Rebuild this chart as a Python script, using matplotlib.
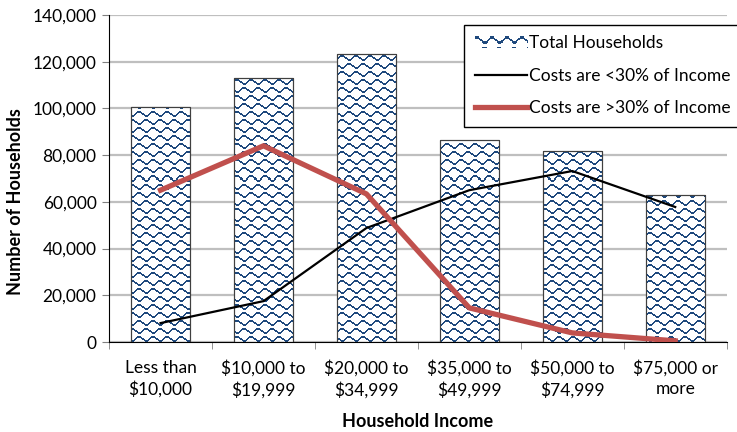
import matplotlib
matplotlib.use('Agg')
import matplotlib.pyplot as plt
import numpy as np
from matplotlib.path import Path
from matplotlib.legend_handler import HandlerBase
from matplotlib.image import BboxImage
from matplotlib.transforms import Bbox, TransformedBbox
from matplotlib.lines import Line2D
from matplotlib.patches import Patch

# datos
categorias = ['Less than\n$10,000', '$10,000 to\n$19,999', '$20,000 to\n$34,999',
              '$35,000 to\n$49,999', '$50,000 to\n$74,999', '$75,000 or\nmore']
total_hogares = [100700, 113000, 123300, 86500, 81800, 63000]
menos_30 = [8100, 17500, 48800, 65000, 73200, 57800]
mas_30 = [65000, 84000, 63400, 14600, 3900, 500]

azul = '#1F497D'
rojo = '#C0504D'

plt.rcParams['font.family'] = ['Lato', 'DejaVu Sans']


def tile_pattern(h, w):
    # patron de ondas tipo Excel
    th, tw = 16, 14
    tile = np.zeros((th, tw), dtype=bool)
    verts = [(0, 0), (3, 0), (5, 2), (6, 2), (8, 4), (10, 4), (14, 0)]
    for dx, dy in [(0, 1), (7, 9)]:
        for (x0, y0), (x1, y1) in zip(verts[:-1], verts[1:]):
            for t in np.linspace(0, 1, 30):
                x = int(round(x0 + t * (x1 - x0) + dx)) % tw
                y = int(round(y0 + t * (y1 - y0) + dy)) % th
                tile[y, x] = True
                tile[(y + 1) % th, x] = True
    mask = np.tile(tile, (h // th + 2, w // tw + 2))[:h, :w]
    img = np.zeros((h, w, 4))
    c = matplotlib.colors.to_rgb(azul)
    img[..., 0], img[..., 1], img[..., 2] = c
    img[..., 3] = mask.astype(float)
    return img


class HandlerTrama(HandlerBase):
    def create_artists(self, legend, orig, xdescent, ydescent, width, height, fontsize, trans):
        bb = TransformedBbox(Bbox.from_bounds(-xdescent, -ydescent, width, height), trans)
        im = BboxImage(bb, interpolation='nearest')
        im.set_data(tile_pattern(10, 50))
        return [im]


fig = plt.figure(figsize=(7.37, 4.32), dpi=100)
ax = fig.add_axes([0.148, 0.2083, 0.838, 0.757])

x = np.arange(len(categorias))
barras = ax.bar(x, total_hogares, width=0.57, color='white', edgecolor='#404040',
                linewidth=0.8, zorder=2)
ax.set_xlim(-0.5, len(categorias) - 0.5)
ax.set_ylim(0, 140000)

# trama recortada a las barras
paths = [b.get_path().transformed(b.get_patch_transform()) for b in barras]
clip = Path.make_compound_path(*paths)
img = tile_pattern(327, 618)
im = ax.imshow(img, extent=(-0.5, len(categorias) - 0.5, 0, 140000), aspect='auto',
               interpolation='nearest', zorder=2.5)
im.set_clip_path(clip, transform=ax.transData)
for b in barras:
    ax.add_patch(plt.Rectangle(b.get_xy(), b.get_width(), b.get_height(), fill=False,
                               edgecolor='#404040', linewidth=0.8, zorder=2.6))

ax.plot(x, menos_30, color='black', lw=1.6, zorder=3)
ax.plot(x, mas_30, color=rojo, lw=3.8, zorder=3)

ax.set_yticks(np.arange(0, 140001, 20000))
ax.set_yticklabels(['{:,}'.format(v) for v in range(0, 140001, 20000)])
ax.yaxis.grid(True, color='#BFBFBF', lw=1.6)
ax.set_axisbelow(True)
ax.set_xticks(x)
ax.set_xticklabels(categorias, fontsize=12.5, linespacing=1.35)
ax.tick_params(axis='x', length=0, pad=13)
ax.set_xticks(np.arange(-0.5, len(categorias)), minor=True)
ax.tick_params(axis='x', which='minor', length=5, color='#808080')
ax.tick_params(axis='y', labelsize=12.5, length=5, color='#808080', pad=4)
for s in ['top', 'right']:
    ax.spines[s].set_visible(False)
ax.spines['left'].set_color('black')
ax.spines['bottom'].set_color('black')

ax.set_ylabel('Number of Households', fontsize=13, fontweight='bold')
ax.yaxis.set_label_coords(-0.138, 0.43)
ax.set_xlabel('Household Income', fontsize=13, fontweight='bold', labelpad=10)

handles = [Patch(facecolor='white'),
           Line2D([], [], color='black', lw=1.6),
           Line2D([], [], color=rojo, lw=3.8)]
etiquetas = ['Total Households', 'Costs are <30% of Income', 'Costs are >30% of Income']
leg = ax.legend(handles, etiquetas, loc='upper left', bbox_to_anchor=(0.575, 0.97),
                fontsize=12.5, frameon=True, fancybox=False, edgecolor='black',
                framealpha=1, borderaxespad=0, labelspacing=0.95, handlelength=3.0,
                handletextpad=0.15, borderpad=0.6,
                handler_map={Patch: HandlerTrama()})
leg.get_frame().set_linewidth(1.0)

fig.savefig('out.png', dpi=100)
